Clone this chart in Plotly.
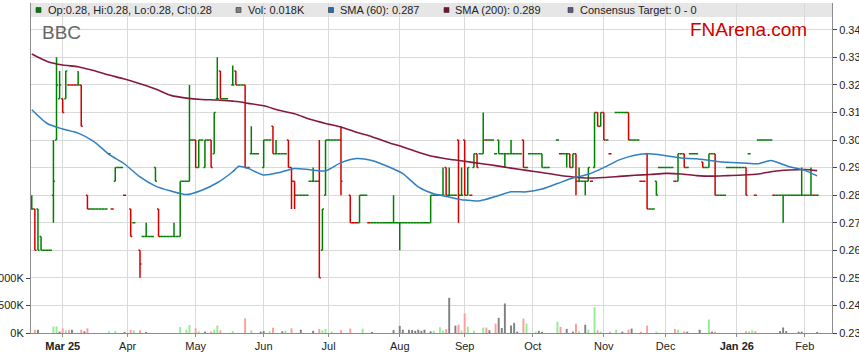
import pandas as pd
import plotly.graph_objects as go

# ---------------- data (one value per weekday, 17 Feb 2025 .. 6 Feb 2026) ----------------
first_day = "2025-02-17"
last_day = "2026-02-06"

opens = [
 .275,.275,.275,.265,.26,  .26,.26,.28,.30,.315,  .315,.315,.32,.32,.32,  .32,.32,None,.28,.275,
 .275,.275,.275,.275,.275, .295,.275,.285,.29,.29, .28,None,.275,.27,None, .26,.265,.265,.265,.265,
 .29,.275,.265,.265,.265,  .265,.265,.265,.265,.285, .285,.285,.30,.30,.29, .30,.29,.30,.30,.295,
 .315,.325,.315,.315,None, .32,.325,.32,.32,.32,  .29,.295,.295,.295,None, .29,.30,.30,.305,.295,
 .295,.295,.295,.30,.29,   .285,.28,.28,.28,.28,  .285,.285,.285,.285,.26, .28,.30,.30,.30,.30,
 .30,None,None,.28,.27,    .27,.27,.28,.28,.27,   .27,.27,.27,.27,.27,     .27,.27,.27,.27,.27,
 .27,.27,.27,.27,.27,      .27,.27,.27,.27,.27,   .28,.28,.28,.28,.29,     .28,.28,.28,.30,.28,
 .30,.28,.28,.29,.295,     .295,.295,.30,.30,.30, .295,.30,.295,.295,.295, .295,.295,.295,.295,.30,
 .29,.295,.295,.295,.295,  .295,.29,.29,None,None, .30,.295,.295,.295,.295, .29,.295,.285,.285,.285,
 .285,.285,.29,.31,.305,   .31,.30,.295,None,.31, .31,.31,.31,.31,.30,    .30,.30,.285,.285,.295,
 .275,.275,.285,.29,.29,   .29,.29,.29,.285,.285, .295,.295,.29,.295,.295, .295,None,.292,.29,.29,
 .295,.295,.28,.28,.28,    .29,.29,.29,.29,.29,   .29,.29,.295,None,.28,   .30,.30,.30,.30,.30,
 .28,.28,.28,.28,.28,      .28,.28,.28,.28,.28,   .28,.28,.28,.28,.28,
]
highs = [
 .28,.275,.275,.265,.26,   .26,.26,.30,.33,.325,  .315,.325,.32,.32,.32,  .325,.32,None,.28,.275,
 .275,.275,.275,.275,.275, .295,.275,.29,.29,.29, .28,None,.275,.27,None, .26,.265,.27,.265,.265,
 .29,.275,.265,.265,.265,  .265,.27,.265,.285,.285, .285,.32,.30,.30,.30, .30,.30,.30,.30,.31,
 .33,.325,.315,.315,None,  .327,.325,.32,.32,.32, .29,.305,.295,.295,None, .30,.30,.30,.305,.30,
 .295,.295,.295,.30,.29,   .285,.28,.28,.28,.28,  .285,.29,.285,.30,.275,  .30,.30,.30,.30,.30,
 .305,None,None,.28,.27,   .27,.28,.28,.28,.27,   .27,.27,.27,.27,.27,     .27,.27,.28,.27,.27,
 .27,.27,.27,.27,.27,      .27,.27,.27,.27,.28,   .28,.28,.28,.29,.29,     .29,.28,.28,.30,.29,
 .30,.29,.28,.295,.295,    .295,.31,.30,.30,.30,  .295,.30,.295,.295,.295, .30,.295,.295,.295,.30,
 .29,.295,.295,.295,.295,  .295,.29,.29,None,None, .30,.295,.295,.295,.295, .295,.295,.29,.285,.285,
 .29,.285,.31,.31,.31,     .31,.30,.295,None,.31, .31,.31,.31,.31,.30,    .30,.30,.285,.285,.295,
 .275,.275,.285,.29,.29,   .29,.29,.29,.285,.295, .295,.295,.29,.295,.295, .295,None,.292,.29,.295,
 .295,.295,.28,.28,.28,    .29,.29,.29,.29,.29,   .29,.29,.295,None,.28,   .30,.30,.30,.30,.30,
 .28,.28,.28,.28,.28,      .28,.28,.28,.28,.29,   .28,.28,.29,.28,.28,
]
lows = [
 .275,.26,.26,.26,.26,     .26,.26,.27,.30,.315,  .31,.315,.32,.32,.32,   .32,.305,None,.275,.275,
 .275,.275,.275,.275,.275, .295,.275,.285,.29,.29, .28,None,.265,.27,None, .25,.265,.265,.265,.265,
 .285,.265,.265,.265,.265, .265,.265,.265,.265,.285, .285,.285,.30,.29,.29, .30,.29,.30,.29,.295,
 .315,.315,.315,.315,None, .32,.32,.32,.32,.29,   .29,.295,.295,.295,None, .29,.30,.30,.295,.295,
 .295,.295,.295,.29,.275,  .275,.28,.28,.28,.28,  .285,.285,.285,.25,.26,  .28,.30,.30,.30,.30,
 .28,None,None,.27,.27,    .27,.27,.28,.28,.27,   .27,.27,.27,.27,.27,     .27,.27,.27,.27,.26,
 .27,.27,.27,.27,.27,      .27,.27,.27,.27,.27,   .28,.28,.28,.28,.28,     .28,.28,.28,.27,.28,
 .28,.28,.28,.29,.29,      .295,.295,.30,.30,.30, .295,.295,.295,.29,.295, .295,.295,.295,.295,.29,
 .29,.295,.295,.295,.295,  .29,.29,.29,None,None, .30,.295,.295,.29,.29,   .29,.28,.285,.285,.28,
 .285,.285,.29,.305,.305,  .30,.30,.295,None,.31, .31,.31,.31,.30,.30,    .30,.30,.285,.285,.275,
 .275,.275,.28,.29,.29,    .29,.29,.29,.285,.285, .295,.29,.29,.295,.295,  .295,None,.29,.29,.29,
 .295,.28,.28,.28,.28,     .29,.29,.29,.29,.29,   .29,.28,.295,None,.28,   .30,.30,.30,.30,.30,
 .28,.28,.28,.27,.28,      .28,.28,.28,.28,.28,   .28,.28,.28,.28,.28,
]
closes = [
 .275,.26,.26,.26,.26,     .26,.26,.285,.32,.32,  .31,.325,.32,.32,.32,   .32,.305,None,.275,.275,
 .275,.275,.275,.275,.275, .295,.275,.29,.29,.29, .28,None,.265,.27,None, .255,.265,.265,.265,.265,
 .285,.265,.265,.265,.265, .265,.265,.265,.285,.285, .285,.30,.30,.29,.30, .30,.30,.30,.29,.31,
 .315,.315,.315,.315,None, .32,.32,.32,.32,.29,   .29,.295,.295,.295,None, .30,.30,.30,.295,.295,
 .295,.295,.295,.29,.285,  .28,.28,.28,.28,.28,   .285,.285,.285,.25,.275, .30,.30,.30,.30,.30,
 .285,None,None,.27,.27,   .27,.28,.28,.28,.27,   .27,.27,.27,.27,.27,     .27,.27,.27,.27,.27,
 .27,.27,.27,.27,.27,      .27,.27,.27,.27,.28,   .28,.28,.28,.28,.28,     .28,.28,.28,.28,.28,
 .28,.29,.28,.295,.29,     .295,.30,.30,.30,.30,  .295,.295,.295,.295,.295, .295,.295,.295,.295,.29,
 .29,.295,.295,.295,.295,  .29,.29,.29,None,None, .30,.295,.295,.295,.29,  .295,.285,.285,.285,.285,
 .29,.285,.31,.305,.31,    .30,.30,.295,None,.31, .31,.31,.31,.30,.30,    .30,.30,.285,.285,.275,
 .275,.275,.28,.29,.29,    .29,.29,.29,.285,.295, .295,.29,.29,.295,.295,  .295,None,.29,.29,.295,
 .295,.28,.28,.28,.28,     .29,.29,.29,.29,.29,   .29,.28,.295,None,.28,   .30,.30,.30,.30,.30,
 .28,.28,.28,.28,.28,      .28,.28,.28,.28,.28,   .28,.28,.28,.28,.28,
]
# g = up bar (green), r = down bar (red), - = no bar
bar_dir = ("grggg" "ggggg" "rgrrr" "gr-rg" "ggggg" "grggg" "r-rg-" "rgggg" "grggg" "ggggg"
           "gggrg" "gggrg" "grgg-" "grggr" "gggg-" "gggrg" "gggrr" "rgggg" "gggrg" "ggggg"
           "r--rr" "rgggr" "ggggg" "ggggg" "ggggg" "ggggg" "ggggr" "gggrg" "rgrgr" "ggrgg"
           "ggggg" "ggggr" "ggggg" "ggg--" "grggr" "grggg" "grgrg" "rgr-g" "gggrg" "ggrrr"
           "ggggg" "gggrg" "grggg" "g-rgg" "grggg" "ggggg" "grg-r" "ggggg" "rgggg" "ggggg" "gggrg")

vol_k = [
 0,60,60,0,0,   0,0,120,120,25,  85,50,60,60,0,  0,60,30,85,0,   0,0,0,0,0,
 30,0,35,0,0,   20,0,60,50,0,    50,0,20,0,0,    0,0,0,0,0,      0,0,0,110,0,
 60,145,0,85,30, 0,25,0,25,60,   135,50,0,0,0,   35,0,0,0,265,   0,50,0,0,25,
 35,0,30,95,0,  0,30,40,0,85,    0,0,60,0,0,     0,40,0,75,50,   70,0,25,0,0,
 50,0,0,80,0,   0,0,80,0,0,      20,0,0,0,0,     0,0,55,0,130,   60,0,60,55,40,
 60,40,60,0,30, 40,0,105,40,70,  640,0,135,150,45, 354,115,0,40,0, 0,100,100,50,0,
 170,275,90,537,0, 135,185,25,0,262, 170,0,0,25,40, 25,0,0,0,0,  207,110,0,75,0,
 25,170,30,0,150, 60,0,470,50,25, 0,0,25,0,60,   0,25,0,60,80,   0,0,25,0,135,
 0,0,25,0,0,    0,0,0,75,60,     0,30,25,0,0,    0,60,0,0,245,   25,25,0,0,0,
 0,0,0,0,0,     0,30,30,50,35,   0,0,0,0,0,      0,0,35,100,35,  0,0,0,25,25,
 0,0,0,0,18,
]
# g = up, r = down, n = unchanged
vol_dir = ("-rn--" "--ggn" "rgrn-" "-rnr-" "-----" "g-g--" "n-rg-" "r-n--" "-----" "---g-"
           "gg-rg" "-n-rg" "gr---" "g---r" "-g--n" "n-gr-" "-ng-r" "--n--" "-n-rg" "g-g--"
           "r--r-" "--g--" "n----" "--n-n" "n-nnn" "nnn-n" "g-ggr" "n-nrg" "rg-g-" "-grn-"
           "rnnn-" "nnn-r" "g--gn" "n----" "gr-n-" "nrg-n" "g-grg" "--r-g" "-n-rn" "--r-r"
           "--g--" "---rg" "-rn--" "-n--g" "nr---" "-----" "-rggr" "-----" "--nnn" "---nn" "----n")

sma_dates = [
 "2025-02-17","2025-02-24","2025-03-03","2025-03-10","2025-03-17","2025-03-24","2025-03-31",
 "2025-04-07","2025-04-14","2025-04-21","2025-04-28","2025-05-05","2025-05-12","2025-05-19",
 "2025-05-21","2025-05-26","2025-06-02","2025-06-09","2025-06-16","2025-06-23","2025-06-30",
 "2025-07-07","2025-07-14","2025-07-21","2025-07-28","2025-08-04","2025-08-11","2025-08-18",
 "2025-08-25","2025-09-01","2025-09-08","2025-09-15","2025-09-22","2025-09-29","2025-10-06",
 "2025-10-13","2025-10-20","2025-10-27","2025-11-03","2025-11-10","2025-11-17","2025-11-24",
 "2025-12-01","2025-12-08","2025-12-15","2025-12-22","2025-12-29","2026-01-05","2026-01-12",
 "2026-01-16","2026-01-26","2026-02-02","2026-02-06",
]
sma60 = [
 .3110,.3060,.3040,.3025,.2995,.2948,.2913,
 .2866,.2833,.2815,.2802,.2818,.2845,.2885,
 .2905,.2897,.2873,.2882,.2897,.2892,.2888,
 .2918,.2933,.2926,.2905,.2878,.2830,.2805,
 .2793,.2782,.2780,.2795,.2812,.2812,.2822,
 .2842,.2862,.2876,.2900,.2928,.2945,.2950,
 .2943,.2935,.2932,.2925,.2919,.2917,.2914,
 .2926,.2903,.2890,.2870,
]
sma200 = [
 .3312,.3285,.3272,.3266,.3252,.3236,.3221,
 .3204,.3185,.3162,.3152,.3147,.3145,.3141,
 .3139,.3133,.3124,.3108,.3095,.3075,.3060,
 .3047,.3028,.3012,.2992,.2975,.2956,.2940,
 .2930,.2923,.2915,.2907,.2898,.2890,.2882,
 .2873,.2866,.2862,.2864,.2868,.2872,.2875,
 .2879,.2877,.2871,.2869,.2871,.2873,.2877,
 .2885,.2891,.2893,.2889,
]

tick_dates = ["2025-03-03","2025-04-01","2025-05-01","2025-06-02","2025-07-01","2025-08-01",
              "2025-09-01","2025-10-01","2025-11-03","2025-12-01","2026-01-01","2026-02-02"]
tick_labels = ["<b>Mar 25</b>","Apr","May","Jun","Jul","Aug","Sep","Oct","Nov","Dec","<b>Jan 26</b>","Feb"]

ticker = "BBC"
consensus = "0 - 0"

# ---------------- styling ----------------
W, H = 859, 363
ML, MR, MT, MB = 31, 27, 3, 30
PW, PH = W - ML - MR, H - MT - MB
FONT = "Liberation Sans, Arial, sans-serif"
GREEN, RED = "#008000", "#d40000"
VOLC = {"g": "#95ec95", "r": "#ff9c9c", "n": "#808080"}
BLUE, MAROON = "#2f7fc1", "#85193d"

def px(x):
    return (x - ML) / PW

def py(y):
    return (H - MB - y) / PH

days = [d.strftime("%Y-%m-%d 12:00") for d in pd.bdate_range(first_day, last_day)]
assert len(days) == len(opens) == len(highs) == len(lows) == len(closes) == len(bar_dir) == len(vol_k) == len(vol_dir)

fig = go.Figure()

# volume (left axis, main y)
vx, vy, vc = [], [], []
for d, v, c in zip(days, vol_k, vol_dir):
    if v and c != "-":
        vx.append(d); vy.append(v); vc.append(VOLC[c])
fig.add_trace(go.Bar(x=vx, y=vy, marker=dict(color=vc, line=dict(width=0)),
                     width=0.62 * 86400000, yaxis="y", hoverinfo="skip", showlegend=False))

# OHLC, split by colour
for code, col in (("g", GREEN), ("r", RED)):
    xs, o, h, l, c = [], [], [], [], []
    for i, d in enumerate(days):
        if bar_dir[i] == code and opens[i] is not None:
            xs.append(d); o.append(opens[i]); h.append(highs[i]); l.append(lows[i]); c.append(closes[i])
    fig.add_trace(go.Ohlc(x=xs, open=o, high=h, low=l, close=c, yaxis="y2",
                          increasing=dict(line=dict(color=col, width=1.5)),
                          decreasing=dict(line=dict(color=col, width=1.5)),
                          tickwidth=0.5, hoverinfo="skip", showlegend=False))

sx = [d + " 12:00" for d in sma_dates]
fig.add_trace(go.Scatter(x=sx, y=sma200, mode="lines", yaxis="y2",
                         line=dict(color=MAROON, width=1.6, shape="spline", smoothing=0.6),
                         hoverinfo="skip", showlegend=False))
fig.add_trace(go.Scatter(x=sx, y=sma60, mode="lines", yaxis="y2",
                         line=dict(color=BLUE, width=1.5, shape="spline", smoothing=0.6),
                         hoverinfo="skip", showlegend=False))

axis_line = "#8c8c8c"
grid = "#d9d9d9"
fig.update_layout(
    width=W, height=H,
    margin=dict(l=ML, r=MR, t=MT, b=MB, autoexpand=False),
    paper_bgcolor="white", plot_bgcolor="white",
    font=dict(family=FONT, size=11, color="#222"),
    showlegend=False,
    xaxis=dict(
        type="date",
        range=["2025-02-17 06:00", "2026-02-13 07:12"],
        rangebreaks=[dict(bounds=["sat", "mon"])],
        rangeslider=dict(visible=False),
        tickvals=[d + " 12:00" for d in tick_dates], ticktext=tick_labels,
        showgrid=True, gridcolor=grid, gridwidth=1,
        showline=True, linecolor=axis_line, linewidth=1,
        ticks="outside", ticklen=3, tickcolor=axis_line,
        tickfont=dict(size=11, color="#222"),
        zeroline=False, fixedrange=True,
    ),
    yaxis=dict(
        side="left", range=[0, 6000],
        tickvals=[0, 500, 1000], ticktext=["0K", "500K", "1000K"],
        showgrid=False, zeroline=False,
        showline=True, linecolor=axis_line, linewidth=1,
        ticks="outside", ticklen=4, tickcolor="#444",
        tickfont=dict(size=11, color="#222"),
    ),
    yaxis2=dict(
        overlaying="y", side="right", range=[0.23, 0.3497],
        tick0=0.23, dtick=0.01, tickformat=".2f",
        showgrid=True, gridcolor=grid, gridwidth=1, zeroline=False,
        showline=True, linecolor=axis_line, linewidth=1,
        ticks="outside", ticklen=4, tickcolor="#444",
        tickfont=dict(size=11, color="#222"),
    ),
)

shapes = [dict(type="rect", xref="paper", yref="paper", x0=0, x1=1, y0=py(17), y1=1,
               fillcolor="#e6e6e6", line=dict(width=0), layer="below")]
legend_items = [
    (36, GREEN, f"Op:{opens[-1]:.2f}, Hi:{highs[-1]:.2f}, Lo:{lows[-1]:.2f}, Cl:{closes[-1]:.2f}"),
    (236, "#808080", f"Vol: {vol_k[-1] / 1000:.3f}K"),
    (328.5, "#1f6fb2", f"SMA (60): {sma60[-1]:.3f}"),
    (444, "#7a0f2e", f"SMA (200): {sma200[-1]:.3f}"),
    (568, "#5b5b86", f"Consensus Target: {consensus}"),
]
annotations = []
for x0, col, txt in legend_items:
    shapes.append(dict(type="rect", xref="paper", yref="paper",
                       x0=px(x0), x1=px(x0 + 5), y0=py(12.5), y1=py(7.5),
                       fillcolor=col, line=dict(color="#333", width=0.6), layer="above"))
    annotations.append(dict(xref="paper", yref="paper", x=px(x0 + 9.5), y=py(10.5),
                            xanchor="left", yanchor="middle", showarrow=False, text=txt,
                            font=dict(family=FONT, size=11, color="#222")))
annotations.append(dict(xref="paper", yref="paper", x=px(40), y=py(32.5), xanchor="left",
                        yanchor="middle", showarrow=False, text=ticker,
                        font=dict(family=FONT, size=19, color="#666")))
annotations.append(dict(xref="paper", yref="paper", x=px(688), y=py(29.5), xanchor="left",
                        yanchor="middle", showarrow=False, text="FNArena.com",
                        font=dict(family=FONT, size=19, color="#cc0000")))
fig.update_layout(shapes=shapes, annotations=annotations)

fig.write_html("out.html",
               config={"displayModeBar": False, "staticPlot": True},
               post_script="document.body.style.margin='0';document.body.style.overflow='hidden';")
